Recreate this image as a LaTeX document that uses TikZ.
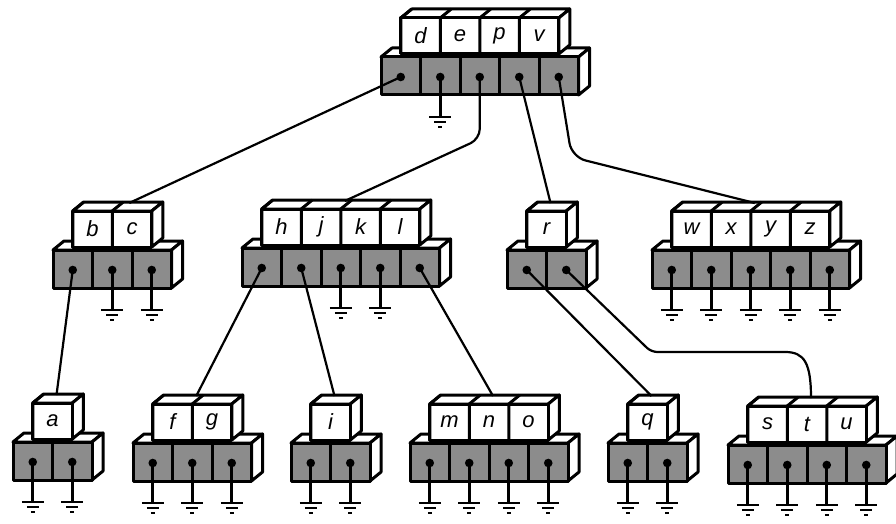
\documentclass[tikz,border=0pt]{standalone}
\usepackage{fontspec}
\setsansfont{Liberation Sans}
\usepackage{tikz}
\usetikzlibrary{calc}

\tikzset{
  box/.style={line width=3pt, line join=round},
  face/.style={box, fill=white},
  ptrcell/.style={box, fill=black!45},
  wire/.style={line width=2.2pt},
  gnd/.style={line width=2.6pt},
  keylabel/.style={font=\sffamily\itshape\fontsize{22}{26}\selectfont, inner sep=0pt},
}

\def\cellw{39.5}
\def\ptrh{38}
\def\keyh{36}
\def\depx{11}
\def\depy{9}

% one page of the tree: name, x, y, number of keys, keys
\newcommand{\bnode}[5]{%
  \pgfmathtruncatemacro{\nptr}{#4+1}%
  \pgfmathsetmacro{\rowlen}{\nptr*\cellw}%
  \pgfmathsetmacro{\keylen}{#4*\cellw}%
  \begin{scope}[shift={(#2,#3)}]
    % pointer row
    \filldraw[face] (0,0) -- ++(\depx,-\depy) -- ++(\rowlen,0) -- ++(-\depx,\depy) -- cycle;
    \filldraw[face] (\rowlen,0) -- ++(\depx,-\depy) -- ++(0,\ptrh) -- ++(-\depx,\depy) -- cycle;
    \filldraw[ptrcell] (0,0) rectangle (\rowlen,\ptrh);
    \foreach \i in {1,...,#4} {\draw[box] (\i*\cellw,0) -- ++(0,\ptrh);}
    \foreach \i in {1,...,\nptr} {
      \coordinate (#1-p\i) at (\i*\cellw-\cellw/2,20);
      \fill (#1-p\i) circle (4.3pt);
    }
    % key row
    \filldraw[face] (\cellw/2,-39) -- ++(\depx,-\depy) -- ++(\keylen,0) -- ++(-\depx,\depy) -- cycle;
    \filldraw[face] (\cellw/2+\keylen,-39) -- ++(\depx,-\depy) -- ++(0,\keyh) -- ++(-\depx,\depy) -- cycle;
    \filldraw[face] (\cellw/2,-39) rectangle (\cellw/2+\keylen,-3);
    \foreach \k [count=\j] in {#5} {
      \draw[box] (\j*\cellw-\cellw/2,-3) -- ++(0,-\keyh) -- ++(\depx,-\depy);
      \node[keylabel] (#1-k\j) at (\j*\cellw,-21) {\k};
    }
    \coordinate (#1-top) at (\cellw/2+\keylen/2+4,-47);
  \end{scope}
}

% ground symbol under a pointer
\newcommand{\earth}[1]{%
  \draw[gnd] (#1) -- ++(0,40) ++(-11,0) -- ++(22,0) ++(-17,5) -- ++(12,0) ++(-8,5) -- ++(4,0);
}

\begin{document}
\begin{tikzpicture}[x=1pt,y=-1pt]
  \useasboundingbox (0,0) rectangle (896,524);

  % Draw the pages
  \bnode{root}{381}{57}{4}{d,e,p,v}
  \bnode{bc}{53}{250}{2}{b,c}
  \bnode{hjkl}{242}{248}{4}{h,j,k,l}
  \bnode{r}{507}{250}{1}{r}
  \bnode{wxyz}{652}{250}{4}{w,x,y,z}
  \bnode{a}{13}{442}{1}{a}
  \bnode{fg}{133}{443}{2}{f,g}
  \bnode{i}{291}{443}{1}{i}
  \bnode{mno}{410}{443}{3}{m,n,o}
  \bnode{q}{608}{443}{1}{q}
  \bnode{stu}{728}{445}{3}{s,t,u}

  % Empty pointers
  \foreach \g in {root-p2,bc-p2,bc-p3,hjkl-p3,hjkl-p4,
                  wxyz-p1,wxyz-p2,wxyz-p3,wxyz-p4,wxyz-p5,
                  a-p1,a-p2,fg-p1,fg-p2,fg-p3,i-p1,i-p2,
                  mno-p1,mno-p2,mno-p3,mno-p4,q-p1,q-p2,
                  stu-p1,stu-p2,stu-p3,stu-p4} {\earth{\g}}

  % Pointers to children
  \draw[wire] (root-p1) -- ($(bc-top)+(13,0)$);
  \draw[wire, rounded corners=10pt] (root-p3) -- ++(0,62) -- (hjkl-top);
  \draw[wire] (root-p4) -- (r-top);
  \draw[wire, rounded corners=14pt] (root-p5) -- ++(13,80) -- (wxyz-top);
  \draw[wire] (bc-p1) -- (a-top);
  \draw[wire] (hjkl-p1) -- (fg-top);
  \draw[wire] (hjkl-p2) -- (i-top);
  \draw[wire] (hjkl-p5) -- (mno-top);
  \draw[wire] (r-p1) -- (q-top);
  \draw[wire, rounded corners=6pt] (r-p2) -- ++(85,82) -- ++(128,0)
    .. controls +(25,0) and +(0,-35) .. (stu-top);
\end{tikzpicture}
\end{document}
